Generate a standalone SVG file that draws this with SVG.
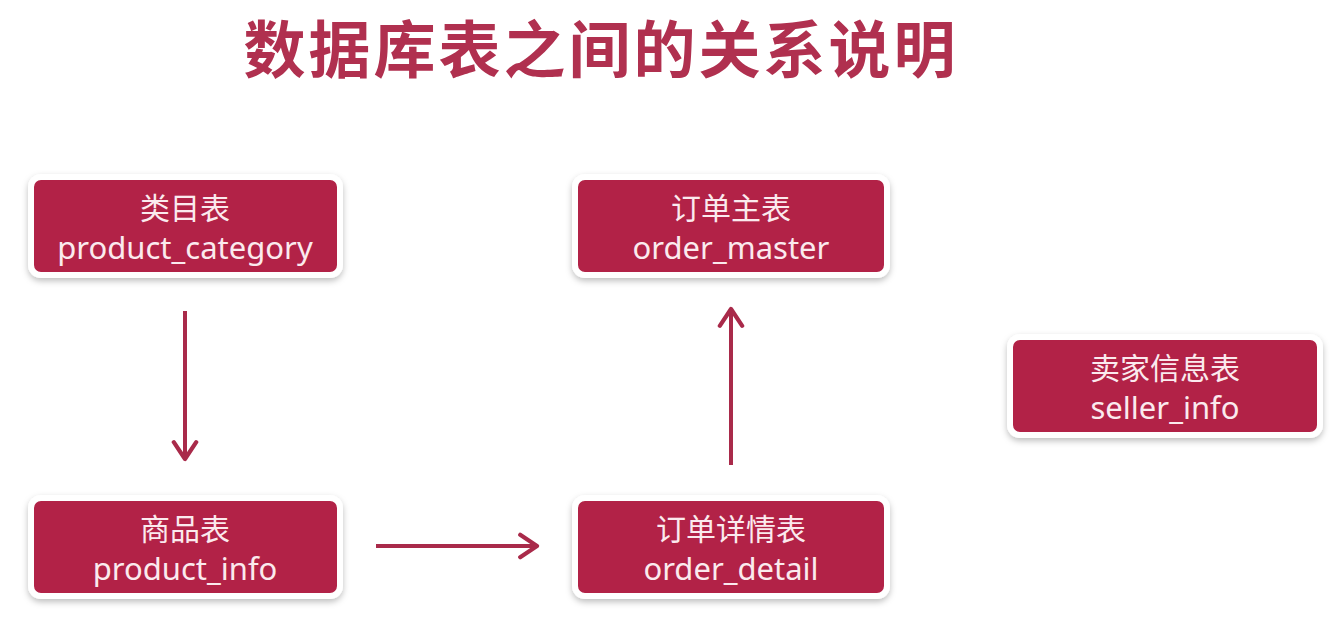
<svg xmlns="http://www.w3.org/2000/svg" width="1340" height="632" viewBox="0 0 1340 632">
<defs>
<style>
.box{fill:#B22346;stroke:#ffffff;stroke-width:6;}
.t{fill:#FBEAEE;font-family:"Noto Sans","Noto Sans CJK SC",sans-serif;font-size:30px;text-anchor:middle;}
.l{font-size:31px;}
.title{fill:#B0304F;font-family:"Noto Sans CJK SC",sans-serif;font-weight:bold;font-size:62px;letter-spacing:3px;text-anchor:middle;}
.conn{stroke:#A92A4A;stroke-width:4;fill:none;}
</style>
<marker id="arr" viewBox="0 0 20 20" refX="16" refY="10" markerWidth="7" markerHeight="7" orient="auto" markerUnits="strokeWidth">
<path d="M4 2 L16 10 L4 18" fill="none" stroke="#A92A4A" stroke-width="3" stroke-linecap="round" stroke-linejoin="round"/>
</marker>
<filter id="sh" x="-10%" y="-20%" width="120%" height="150%">
<feDropShadow dx="0" dy="3" stdDeviation="3" flood-color="#000" flood-opacity="0.25"/>
</filter>
</defs>
<rect width="1340" height="632" fill="#ffffff"/>
<text class="title" x="601" y="73">数据库表之间的关系说明</text>
<g id="connectors">
<line class="conn" x1="185" y1="311" x2="185" y2="459" marker-end="url(#arr)"/>
<line class="conn" x1="376" y1="546" x2="537" y2="546" marker-end="url(#arr)"/>
<line class="conn" x1="731" y1="465" x2="731" y2="309" marker-end="url(#arr)"/>
</g>
<g id="product_category">
<rect class="box" x="31" y="177" width="309" height="98" rx="10" filter="url(#sh)"/>
<text class="t" x="185" y="219">类目表</text>
<text class="t l" x="185" y="259">product_category</text>
</g>
<g id="order_master">
<rect class="box" x="575" y="177" width="312" height="98" rx="10" filter="url(#sh)"/>
<text class="t" x="731" y="219">订单主表</text>
<text class="t l" x="731" y="259">order_master</text>
</g>
<g id="seller_info">
<rect class="box" x="1010" y="337" width="310" height="98" rx="10" filter="url(#sh)"/>
<text class="t" x="1165" y="379">卖家信息表</text>
<text class="t l" x="1165" y="419">seller_info</text>
</g>
<g id="product_info">
<rect class="box" x="31" y="498" width="309" height="98" rx="10" filter="url(#sh)"/>
<text class="t" x="185" y="540">商品表</text>
<text class="t l" x="185" y="580">product_info</text>
</g>
<g id="order_detail">
<rect class="box" x="575" y="498" width="312" height="98" rx="10" filter="url(#sh)"/>
<text class="t" x="731" y="540">订单详情表</text>
<text class="t l" x="731" y="580">order_detail</text>
</g>
</svg>
